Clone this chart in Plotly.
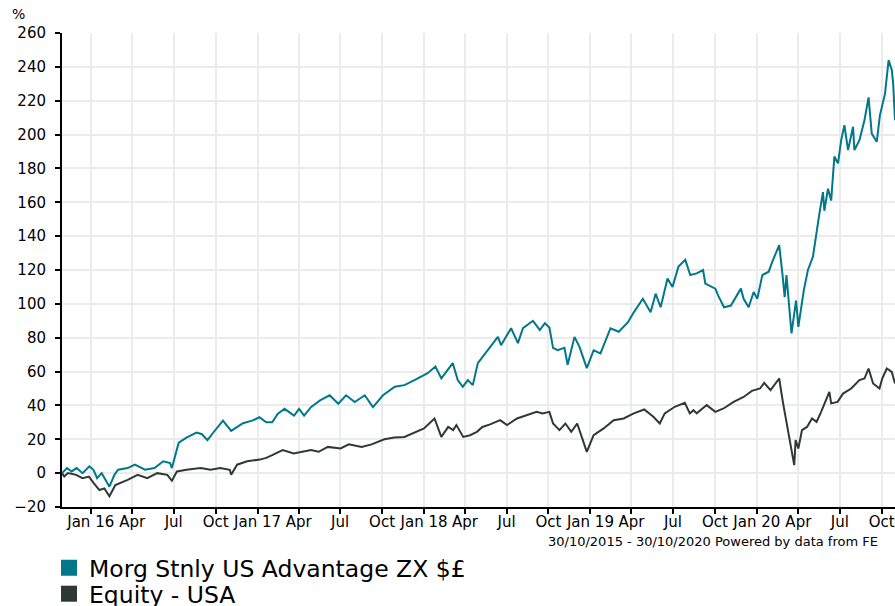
import plotly.graph_objects as go

# ---------------- data ----------------
fund_name = "Morg Stnly US Advantage ZX $£"
sector_name = "Equity - USA"

fund_dates = [
    "2015-10-30", "2015-11-10", "2015-11-20", "2015-12-01", "2015-12-14", "2015-12-29",
    "2016-01-07", "2016-01-15", "2016-01-25", "2016-02-11", "2016-02-22", "2016-03-01",
    "2016-03-22", "2016-04-07", "2016-04-29", "2016-05-20", "2016-06-08", "2016-06-23",
    "2016-06-27", "2016-07-12", "2016-07-29", "2016-08-20", "2016-09-01", "2016-09-13",
    "2016-09-26", "2016-10-17", "2016-11-04", "2016-11-30", "2016-12-20", "2017-01-05",
    "2017-01-20", "2017-02-02", "2017-02-14", "2017-03-01", "2017-03-22", "2017-04-02",
    "2017-04-13", "2017-04-28", "2017-05-18", "2017-06-08", "2017-06-27", "2017-07-14",
    "2017-08-02", "2017-08-24", "2017-09-11", "2017-10-03", "2017-10-29", "2017-11-19",
    "2017-12-11", "2017-12-26", "2018-01-09", "2018-01-26", "2018-02-08", "2018-02-22",
    "2018-03-05", "2018-03-16", "2018-03-27", "2018-04-07", "2018-04-18", "2018-04-29",
    "2018-05-21", "2018-06-12", "2018-06-19", "2018-07-11", "2018-07-26", "2018-08-06",
    "2018-08-28", "2018-09-12", "2018-09-23", "2018-10-03", "2018-10-11", "2018-10-21",
    "2018-11-05", "2018-11-12", "2018-11-27", "2018-12-08", "2018-12-24", "2019-01-08",
    "2019-01-23", "2019-02-07", "2019-02-14", "2019-03-04", "2019-03-24", "2019-04-06",
    "2019-04-26", "2019-05-13", "2019-05-24", "2019-06-04", "2019-06-19", "2019-06-30",
    "2019-07-13", "2019-07-28", "2019-08-08", "2019-08-22", "2019-09-05", "2019-09-10",
    "2019-10-02", "2019-10-08", "2019-10-21", "2019-11-05", "2019-11-27", "2019-12-03",
    "2019-12-14", "2019-12-25", "2020-01-02", "2020-01-13", "2020-01-27", "2020-02-04",
    "2020-02-19", "2020-02-26", "2020-03-02", "2020-03-06", "2020-03-17", "2020-03-27",
    "2020-04-01", "2020-04-13", "2020-04-22", "2020-05-03", "2020-05-11", "2020-05-17",
    "2020-05-25", "2020-05-28", "2020-06-05", "2020-06-12", "2020-06-19", "2020-06-27",
    "2020-07-04", "2020-07-11", "2020-07-19", "2020-07-30", "2020-08-02", "2020-08-13",
    "2020-08-24", "2020-09-02", "2020-09-09", "2020-09-20", "2020-09-27", "2020-10-08",
    "2020-10-16", "2020-10-23", "2020-10-26", "2020-10-30",
]
fund_values = [
    0, 3, 1, 3, 0, 4,
    2, -3, 0, -8, -1, 2,
    3, 5, 2, 3, 7, 6,
    3, 18, 21, 24, 23, 19.5,
    24, 31, 25, 29.5, 31, 33,
    30, 30, 35, 38, 34, 38,
    34, 39, 43, 46, 41, 46,
    42, 46, 39, 46, 51, 52,
    55, 57, 59, 63, 56, 61,
    65, 55, 51, 55, 52, 65,
    72.6, 80.5, 75.6, 85.6, 76.8, 85.6,
    90, 84.5, 88.6, 86, 74, 72.6,
    74, 64, 80.5, 74.6, 62, 72.6,
    70.7, 80.5, 85.6, 83.5, 89, 95,
    103, 95, 106, 98, 115, 110,
    122, 126, 117, 118, 120, 112,
    109, 105, 98, 99, 109, 103,
    98, 107, 103, 117, 119, 125,
    134.7, 118, 104, 117, 82.5, 102,
    86.4, 108, 120, 127.8, 143.5, 153,
    166, 155, 168, 161, 187, 183,
    196.7, 205.5, 190.8, 204.6, 190.8, 196.7,
    208.5, 222, 200.6, 195.7, 211.5, 224,
    244, 238, 230, 208.5,
]

sector_dates = [
    "2015-10-30", "2015-11-04", "2015-11-12", "2015-11-30", "2015-12-14", "2015-12-28",
    "2016-01-08", "2016-01-20", "2016-01-31", "2016-02-11", "2016-02-24", "2016-03-22",
    "2016-04-13", "2016-05-04", "2016-05-26", "2016-06-17", "2016-06-27", "2016-07-08",
    "2016-07-29", "2016-08-29", "2016-09-20", "2016-10-11", "2016-11-01", "2016-11-04",
    "2016-11-17", "2016-12-09", "2017-01-06", "2017-01-20", "2017-02-02", "2017-02-25",
    "2017-03-21", "2017-04-12", "2017-04-28", "2017-05-15", "2017-06-04", "2017-07-02",
    "2017-07-20", "2017-08-17", "2017-09-08", "2017-10-06", "2017-10-28", "2017-11-19",
    "2017-12-11", "2018-01-01", "2018-01-24", "2018-02-08", "2018-02-23", "2018-03-06",
    "2018-03-13", "2018-03-28", "2018-04-12", "2018-04-27", "2018-05-09", "2018-05-26",
    "2018-06-17", "2018-07-02", "2018-07-24", "2018-08-15", "2018-09-05", "2018-09-18",
    "2018-10-03", "2018-10-11", "2018-10-25", "2018-11-07", "2018-11-20", "2018-12-03",
    "2018-12-14", "2018-12-24", "2019-01-08", "2019-01-30", "2019-02-21", "2019-03-15",
    "2019-04-06", "2019-04-29", "2019-05-19", "2019-06-02", "2019-06-13", "2019-07-05",
    "2019-07-27", "2019-08-07", "2019-08-15", "2019-08-22", "2019-09-13", "2019-10-02",
    "2019-10-20", "2019-11-11", "2019-12-03", "2019-12-21", "2020-01-08", "2020-01-17",
    "2020-01-31", "2020-02-19", "2020-02-27", "2020-03-09", "2020-03-16", "2020-03-23",
    "2020-03-26", "2020-04-01", "2020-04-09", "2020-04-20", "2020-05-01", "2020-05-11",
    "2020-05-21", "2020-06-08", "2020-06-12", "2020-06-26", "2020-07-08", "2020-07-26",
    "2020-08-13", "2020-08-24", "2020-09-02", "2020-09-12", "2020-09-26", "2020-10-02",
    "2020-10-12", "2020-10-23", "2020-10-30",
]
sector_values = [
    0, -2, 0, -1, -3, -2,
    -6, -10, -9, -13.6, -7, -4,
    -1, -3, 0, -1, -4.5, 1,
    2, 3, 2, 3, 2, -1,
    5, 7, 8, 9, 10.6, 13.6,
    11.6, 12.6, 13.6, 12.6, 15.5, 14.6,
    17, 15.5, 17, 20, 21, 21.4,
    23.8, 26.4, 32.3, 21.4, 27.3, 25.4,
    28.4, 21.4, 22.4, 24.4, 27.3, 28.8,
    31.3, 28.4, 32.3, 34.3, 36.2, 35.3,
    36.2, 29.3, 25.4, 29.3, 24.4, 29.3,
    20.5, 12.6, 22.4, 26.4, 31.3, 32.3,
    35.3, 37.6, 33.3, 29.3, 35.3, 39.2,
    41.5, 35.3, 37.2, 35.3, 40.2, 36.2,
    38.2, 42.1, 45, 48.6, 50, 53.3,
    49, 55.9, 42.1, 25.4, 15.5, 4.7,
    19.5, 14.6, 25.4, 27.3, 32.3, 30.3,
    36.2, 48, 41.2, 42.1, 47, 50,
    55, 55.9, 61.8, 53, 50, 55.9,
    61.8, 59.8, 53,
]

tick_dates = [
    "2016-01-01", "2016-04-01", "2016-07-01", "2016-10-01",
    "2017-01-01", "2017-04-01", "2017-07-01", "2017-10-01",
    "2018-01-01", "2018-04-01", "2018-07-01", "2018-10-01",
    "2019-01-01", "2019-04-01", "2019-07-01", "2019-10-01",
    "2020-01-01", "2020-04-01", "2020-07-01", "2020-10-01",
]
tick_labels = [
    "Jan 16", "Apr", "Jul", "Oct",
    "Jan 17", "Apr", "Jul", "Oct",
    "Jan 18", "Apr", "Jul", "Oct",
    "Jan 19", "Apr", "Jul", "Oct",
    "Jan 20", "Apr", "Jul", "Oct",
]
y_ticks = list(range(-20, 261, 20))
period_text = "30/10/2015 - 30/10/2020 Powered by data from FE"

# ---------------- styling ----------------
FUND_COLOR = "#00788A"
SECTOR_COLOR = "#2E3834"
FONT = "DejaVu Sans, Verdana, sans-serif"

fig = go.Figure()
fig.add_trace(go.Scatter(x=sector_dates, y=sector_values, mode="lines",
                         line=dict(color=SECTOR_COLOR, width=2), showlegend=False,
                         name=sector_name))
fig.add_trace(go.Scatter(x=fund_dates, y=fund_values, mode="lines",
                         line=dict(color=FUND_COLOR, width=2), showlegend=False,
                         name=fund_name))
# legend entries drawn as squares, one legend box per entry for tight spacing
fig.add_trace(go.Scatter(x=[None], y=[None], mode="markers", name=fund_name,
                         marker=dict(symbol="square", size=17, color=FUND_COLOR),
                         legend="legend"))
fig.add_trace(go.Scatter(x=[None], y=[None], mode="markers", name=sector_name,
                         marker=dict(symbol="square", size=17, color=SECTOR_COLOR),
                         legend="legend2"))

legend_common = dict(xanchor="left", yanchor="top", orientation="v",
                     font=dict(size=23.5, color="#000"),
                     bgcolor="rgba(0,0,0,0)", itemsizing="trace")

fig.update_layout(
    width=895, height=606,
    margin=dict(l=62, r=0, t=33, b=99, autoexpand=False),
    paper_bgcolor="white", plot_bgcolor="white",
    font=dict(family=FONT, size=14, color="#000"),
    showlegend=True,
    legend=dict(x=-0.0156, y=-0.082, **legend_common),
    legend2=dict(x=-0.0156, y=-0.137, **legend_common),
    xaxis=dict(
        type="date", range=["2015-10-30", "2020-10-30"],
        tickmode="array", tickvals=tick_dates, ticktext=tick_labels,
        ticks="outside", ticklen=5, tickwidth=2, tickcolor="#000",
        showgrid=True, gridcolor="#EBEBEB", gridwidth=2,
        showline=True, linecolor="#000", linewidth=2,
        zeroline=False, tickfont=dict(size=15, color="#000"),
        tickangle=0, automargin=False, ticklabelstandoff=-5,
        ticklabeloverflow="allow",
    ),
    yaxis=dict(
        range=[-20, 260], tickmode="array", tickvals=y_ticks,
        ticks="outside", ticklen=5, tickwidth=2, tickcolor="#000",
        showgrid=True, gridcolor="#EBEBEB", gridwidth=2,
        showline=True, linecolor="#000", linewidth=2,
        zeroline=False, tickfont=dict(size=15, color="#000"),
        ticklabelstandoff=6, automargin=False,
    ),
    annotations=[
        dict(text="%", xref="paper", yref="paper", x=-0.0625, y=1.0,
             xanchor="left", yanchor="bottom", showarrow=False,
             font=dict(size=14, color="#000"), yshift=9),
        dict(text=period_text, xref="paper", yref="paper", x=0.982, y=-0.0738,
             xanchor="right", yanchor="middle", showarrow=False,
             font=dict(size=13, color="#000")),
    ],
)

fig.write_html("out.html",
               config={"displayModeBar": False},
               post_script="document.body.style.margin='0px';document.body.style.padding='0px';")
